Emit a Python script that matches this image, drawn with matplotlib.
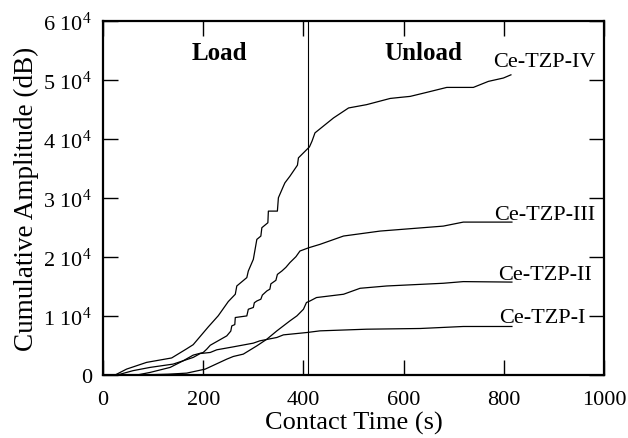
import matplotlib
matplotlib.use("Agg")
import matplotlib.pyplot as plt

plt.rcParams['font.family'] = ['Liberation Serif', 'DejaVu Serif']
plt.rcParams['mathtext.fontset'] = 'custom'
plt.rcParams['mathtext.rm'] = 'Liberation Serif'
plt.rcParams['mathtext.it'] = 'Liberation Serif:italic'
plt.rcParams['mathtext.bf'] = 'Liberation Serif:bold'

# Ce-TZP-IV
x_iv = [25, 47, 87, 137, 167, 180, 194, 210, 230, 250, 264, 267, 287, 290, 300, 307, 315, 317,
        329, 330, 348, 350, 360, 363, 373, 388, 390, 412, 417, 423, 460, 490, 526, 573, 593,
        613, 646, 686, 739, 769, 799, 814]
y_iv = [0, 960, 2100, 2850, 4400, 5100, 6500, 8100, 10000, 12400, 13640, 15040, 16460, 17580,
        19550, 22930, 23490, 24910, 25750, 27720, 27720, 29980, 31940, 32510, 33630, 35500,
        36740, 38600, 39550, 40970, 43500, 45190, 45750, 46800, 46980, 47150, 47830, 48670, 48670,
        49690, 50260, 50800]

# Ce-TZP-III
x_iii = [70, 94, 134, 160, 180, 200, 207, 214, 247, 255, 257, 263, 264, 287, 290, 300, 302, 307,
         315, 318, 327, 333, 335, 345, 348, 357, 365, 373, 385, 393, 410, 433, 480, 553, 613, 679,
         719, 816]
y_iii = [0, 400, 1250, 2370, 3330, 3780, 4340, 5000, 6590, 7400, 8280, 8500, 9700, 9970, 11100,
         11400, 12200, 12500, 12800, 13500, 14200, 14500, 15400, 16000, 17000, 17580, 18200, 19000,
         20000, 20960, 21500, 22090, 23500, 24340, 24740, 25180, 25860, 25860]

# Ce-TZP-II
x_ii = [90, 130, 167, 204, 247, 260, 280, 307, 327, 347, 373, 387, 400, 406, 413, 426, 480, 513,
        566, 679, 719, 816]
y_ii = [0, 100, 280, 960, 2650, 3100, 3500, 4900, 6030, 7440, 9130, 9980, 11100, 12240, 12500,
        13080, 13640, 14650, 15040, 15500, 15780, 15700]

# Ce-TZP-I
x_i = [30, 60, 94, 140, 160, 180, 194, 214, 227, 260, 300, 313, 347, 360, 407, 433, 526, 633, 719,
       816]
y_i = [0, 700, 1250, 1810, 2370, 2940, 3600, 3780, 4230, 4730, 5360, 5750, 6320, 6760, 7160, 7440,
       7720, 7840, 8180, 8180]

series = [(x_iv, y_iv), (x_iii, y_iii), (x_ii, y_ii), (x_i, y_i)]
labels = ["Ce-TZP-IV", "Ce-TZP-III", "Ce-TZP-II", "Ce-TZP-I"]
label_x = [778, 780, 788, 790]
label_y = [53000, 27160, 17020, 9750]

xticks = [0, 200, 400, 600, 800, 1000]
yticks = [0, 10000, 20000, 30000, 40000, 50000, 60000]
ytick_labels = ["0"] + [r"%d $\mathrm{10}^{4}$" % k for k in range(1, 7)]
boundary = 410

fig = plt.figure(figsize=(6.28, 4.39), dpi=100)
ax = fig.add_axes([0.164, 0.144, 0.798, 0.807])

for (xs, ys) in series:
    ax.plot(xs, ys, color='black', lw=0.9)
for lab, lx, ly in zip(labels, label_x, label_y):
    ax.text(lx, ly, lab, fontsize=16, ha='left', va='center')

ax.axvline(boundary, color='black', lw=0.8)
ax.text(233, 54500, "Load", fontsize=18, fontweight='bold', ha='center', va='center')
ax.text(639, 54500, "Unload", fontsize=18, fontweight='bold', ha='center', va='center')

ax.set_xlim(0, 1000)
ax.set_ylim(0, 60000)
ax.set_xticks(xticks)
ax.set_xticklabels([str(t) for t in xticks])
ax.set_yticks(yticks)
ax.set_yticklabels(ytick_labels)
ax.tick_params(direction='in', length=11, width=1.0, labelsize=16, top=True, right=True)
ax.tick_params(axis='x', pad=11)
ax.tick_params(axis='y', pad=8)
for s in ax.spines.values():
    s.set_linewidth(1.6)

ax.set_xlabel("Contact Time (s)", fontsize=19, labelpad=1)
ax.set_ylabel("Cumulative Amplitude (dB)", fontsize=19.5, labelpad=3)

fig.savefig("out.png", dpi=100)
